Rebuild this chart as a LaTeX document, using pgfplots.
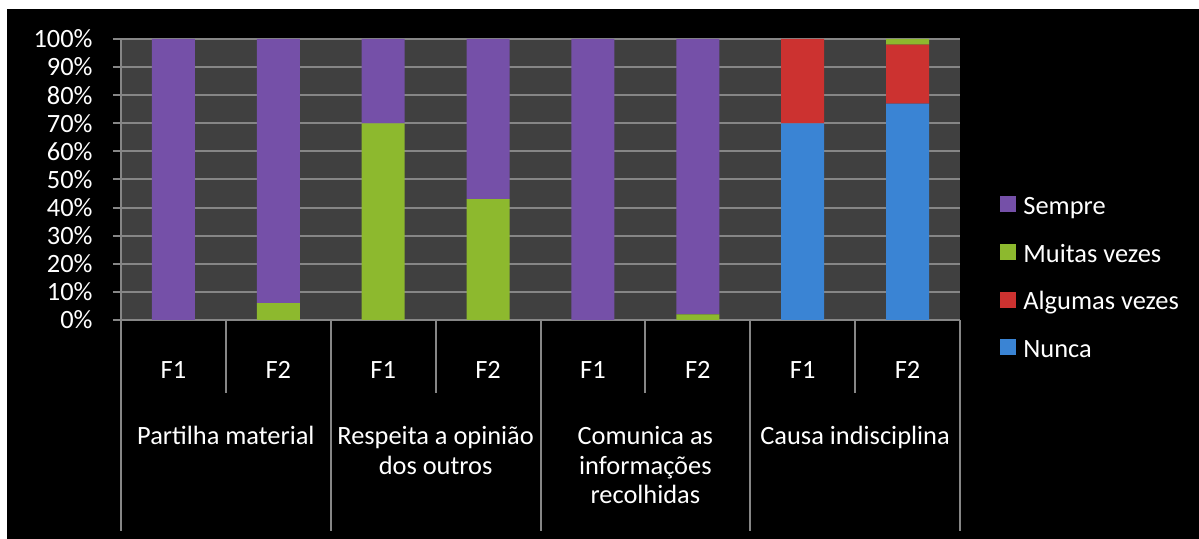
\documentclass[border=0pt]{standalone}
\usepackage{fontspec}
\setmainfont{Carlito}
\usepackage{pgfplots}
\pgfplotsset{compat=1.18}

\definecolor{plotbg}{HTML}{404040}
\definecolor{gridc}{HTML}{868686}
\definecolor{cpurple}{HTML}{7550A8}
\definecolor{cgreen}{HTML}{8DB92E}
\definecolor{cred}{HTML}{CC3230}
\definecolor{cblue}{HTML}{3A84D4}

\begin{document}
\begin{tikzpicture}[font=\fontsize{13.2}{14.5}\selectfont]
% page and chart background
\fill[white] (-60.5pt,160pt) rectangle (539pt,-109.5pt);
\fill[black] (-57pt,155.5pt) rectangle (539pt,-109.5pt);
\begin{axis}[
  at={(0,0)}, anchor=south west,
  scale only axis, width=419.5pt, height=140.5pt,
  xmin=-0.5, xmax=7.5, ymin=0, ymax=100,
  ybar stacked, bar width=21.5pt,
  axis background/.style={fill=plotbg},
  axis lines*=left,
  axis line style={gridc, line width=1pt},
  ytick={0,10,...,100},
  yticklabel={\pgfmathprintnumber{\tick}\%},
  /pgf/number format/assume math mode=true,
  ymajorgrids, grid style={gridc, line width=1pt},
  xtick={0,...,7},
  xticklabels={F1,F2,F1,F2,F1,F2,F1,F2},
  x tick style={draw=none},
  y tick style={gridc, line width=1pt},
  tick align=outside, major tick length=4pt,
  ticklabel style={text=white},
  yticklabel style={inner sep=0pt, xshift=-10pt},
  xticklabel style={anchor=base, inner sep=0pt, yshift=-25.5pt},
  clip=false,
  reverse legend,
  legend cell align=left,
  legend style={at={(1.0477,0.441)}, anchor=north west, draw=none, fill=none,
    text=white, inner sep=0pt, row sep=11.8pt, column sep=3.5pt,
    nodes={inner sep=0pt, text height=9pt, text depth=3pt}},
  legend image code/.code={\fill[#1] (0pt,-2pt) rectangle (8pt,6pt);},
]
\addplot[draw=none, fill=cblue]
  coordinates {(0,0) (1,0) (2,0) (3,0) (4,0) (5,0) (6,70) (7,77)};
\addlegendentry{Nunca}
\addplot[draw=none, fill=cred]
  coordinates {(0,0) (1,0) (2,0) (3,0) (4,0) (5,0) (6,30) (7,21)};
\addlegendentry{Algumas vezes}
\addplot[draw=none, fill=cgreen]
  coordinates {(0,0) (1,6) (2,70) (3,43) (4,0) (5,2) (6,0) (7,2)};
\addlegendentry{Muitas vezes}
\addplot[draw=none, fill=cpurple]
  coordinates {(0,100) (1,94) (2,30) (3,57) (4,100) (5,98) (6,0) (7,0)};
\addlegendentry{Sempre}

% separators of the two-level category axis
\pgfplotsinvokeforeach{0.5,2.5,4.5,6.5}{
  \draw[gridc, line width=1pt] (axis cs:#1,0) -- ++(0pt,-36.5pt);
}
\pgfplotsinvokeforeach{-0.5,1.5,3.5,5.5,7.5}{
  \draw[gridc, line width=1pt] (axis cs:#1,0) -- ++(0pt,-105.5pt);
}

% group names
\node[anchor=base, text=white, inner sep=0pt, yshift=-62.5pt] at (axis cs:0.5,0) {Partilha material};
\node[anchor=base, text=white, inner sep=0pt, yshift=-62.5pt] at (axis cs:2.5,0) {Respeita a opinião};
\node[anchor=base, text=white, inner sep=0pt, yshift=-77.25pt] at (axis cs:2.5,0) {dos outros};
\node[anchor=base, text=white, inner sep=0pt, yshift=-62.5pt] at (axis cs:4.5,0) {Comunica as};
\node[anchor=base, text=white, inner sep=0pt, yshift=-77.25pt] at (axis cs:4.5,0) {informações};
\node[anchor=base, text=white, inner sep=0pt, yshift=-92pt] at (axis cs:4.5,0) {recolhidas};
\node[anchor=base, text=white, inner sep=0pt, yshift=-62.5pt] at (axis cs:6.5,0) {Causa indisciplina};
\end{axis}
\pgfresetboundingbox
\useasboundingbox (-60.5pt,160pt) rectangle (539pt,-109.5pt);
\end{tikzpicture}
\end{document}
